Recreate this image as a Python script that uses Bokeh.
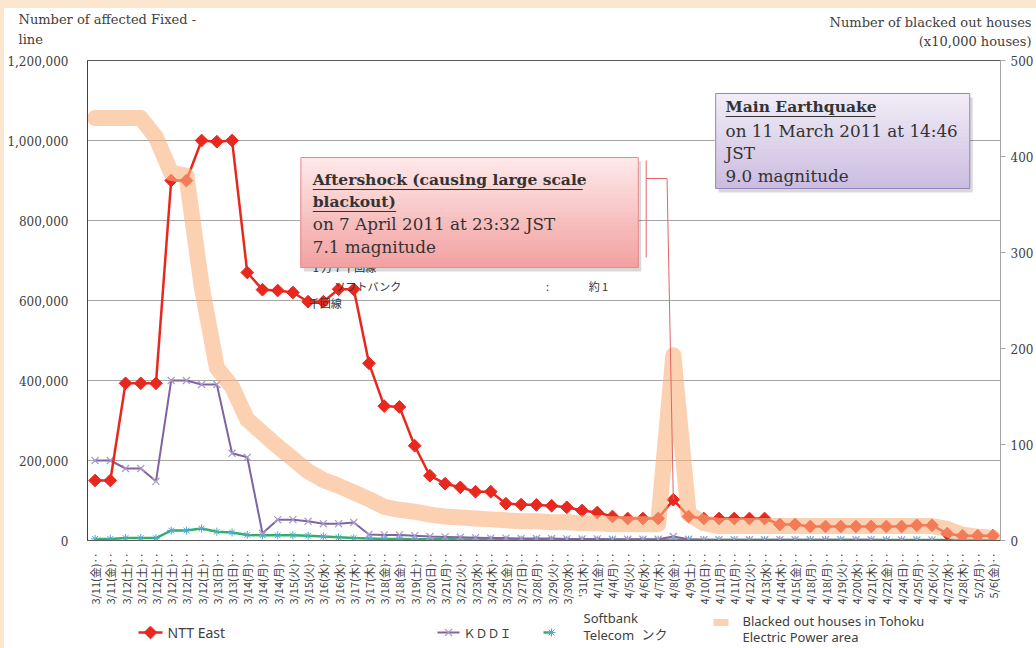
import numpy as np
from bokeh.plotting import figure
from bokeh.models import (Range1d, LinearAxis, FixedTicker, NumeralTickFormatter,
                          Label, BoxAnnotation, ColumnDataSource, Spacer)
from bokeh.layouts import column, row
from bokeh.embed import file_html
from bokeh.resources import INLINE

# ---------------- data ----------------
dates = ["3/11(金)‥", "3/11(金)‥", "3/12(土)‥", "3/12(土)‥", "3/12(土)‥", "3/12(土)‥",
         "3/12(土)‥", "3/12(土)‥", "3/13(日)‥", "3/13(日)‥", "3/14(月)‥", "3/14(月)‥",
         "3/14(月)‥", "3/15(火)‥", "3/15(火)‥", "3/16(水)‥", "3/16(水)‥", "3/17(木)‥",
         "3/17(木)‥", "3/18(金)‥", "3/18(金)‥", "3/19(土)‥", "3/20(日)‥", "3/21(月)‥",
         "3/22(火)‥", "3/23(水)‥", "3/24(木)‥", "3/25(金)‥", "3/27(日)‥", "3/28(月)‥",
         "3/29(火)‥", "3/30(水)‥", "'31(木)‥", "4/1(金)‥", "4/4(月)‥", "4/5(火)‥",
         "4/6(水)‥", "4/7(木)‥", "4/8(金)‥", "4/9(土)‥", "4/10(日)‥", "4/11(月)‥",
         "4/11(月)‥", "4/12(火)‥", "4/13(水)‥", "4/14(木)‥", "4/15(金)‥", "4/18(月)‥",
         "4/18(月)‥", "4/19(火)‥", "4/20(水)‥", "4/21(木)‥", "4/22(金)‥", "4/24(日)‥",
         "4/25(月)‥", "4/26(火)‥", "4/27(水)‥", "4/28(木)‥", "5/2(月)‥", "5/6(金)‥"]

ntt_east = [150000, 150000, 393000, 393000, 393000, 900000, 900000, 1000000, 997000, 1000000,
            670000, 627000, 625000, 620000, 597000, 597000, 628000, 628000, 443000, 336000,
            334000, 237000, 162000, 142000, 133000, 122000, 122000, 92000, 90000, 89000,
            87000, 83000, 75000, 70000, 60000, 55000, 55000, 55000, 102000, 60000,
            55000, 55000, 55000, 55000, 55000, 40000, 40000, 35000, 35000, 35000,
            35000, 35000, 35000, 35000, 38000, 38000, 17000, 12000, 12000, 12000]

kddi = [200000, 200000, 180000, 180000, 148000, 400000, 400000, 390000, 390000, 218000,
        208000, 18000, 52000, 52000, 48000, 42000, 42000, 45000, 15000, 14000,
        14000, 12000, 10000, 9000, 8000, 7000, 6000, 6000, 5000, 5000,
        5000, 4000, 4000, 4000, 3000, 3000, 3000, 3000, 10000, 3000,
        2000, 2000, 2000, 2000, 2000, 2000, 2000, 2000, 2000, 2000,
        2000, 2000, 1500, 1500, 1500, 1500, 1500, 1000, 1000, 1000]

softbank = [4000, 4000, 6000, 6000, 6000, 25000, 25000, 30000, 22000, 20000,
            14000, 13000, 13000, 13000, 12000, 10000, 8000, 6000, 5000, 4000,
            4000, 3000, 3000, 3000, 2500, 2500, 2500, 2000, 2000, 2000,
            2000, 2000, 2000, 2000, 2000, 2000, 2000, 2000, 2000, 2000,
            1500, 1500, 1500, 1500, 1500, 1500, 1500, 1500, 1500, 1500,
            1500, 1500, 1000, 1000, 1000, 1000, 1000, 1000, 1000, 1000]

blackout = [440, 440, 440, 440, 420, 383, 380, 265, 180, 160,
            126, 112, 98, 85, 72, 63, 57, 50, 43, 35,
            32, 30, 27, 25, 24, 23, 22, 21, 20, 20,
            19, 19, 18, 18, 17, 17, 17, 17, 193, 28,
            18, 15, 15, 15, 15, 15, 15, 15, 15, 15,
            15, 15, 15, 15, 15, 15, 12, 6, 4, 3]

left_ticks = [0, 200000, 400000, 600000, 800000, 1000000, 1200000]
right_ticks = [0, 100, 200, 300, 400, 500]

# ---------------- style ----------------
NTT = "#E8281E"
KDDI_LINE = "#8064A2"
KDDI_MARK = "#A99BCB"
SB_LINE = "#2EAF6A"
SB_MARK = "#4BACC6"
BAND = "#F9B37F"
BAND_ALPHA = 0.6
TXT = "#404040"
SERIF = "DejaVu Serif"
SANS = "Noto Sans"
CJK = "Noto Sans CJK JP"
PEACH = "#FCE6CF"
BOLD_SIZE = "15.5px"
REG_SIZE = "16.8px"

N = len(dates)
xs = list(range(N))

# page geometry
OX, OY = 4, 8          # peach strips
TOP_H = 44             # title strip height (page y 8..52)
PTOP = OY + TOP_H      # main plot starts at this page y
W = 1036 - OX
H = 610 - PTOP
FL, FT, FR, FB = 83, 60, 1003, 540

DX = (FR - FL) / N


def px2x(px):
    return (px - FL) / DX - 0.5


def py2y(py):
    return (FB - py) * left_ticks[-1] / (FB - FT)


p = figure(width=W, height=H, output_backend="svg", toolbar_location=None,
           x_range=Range1d(-0.5, N - 0.5), y_range=Range1d(0, left_ticks[-1]),
           min_border_left=FL - OX, min_border_right=(OX + W) - FR,
           min_border_top=FT - PTOP, min_border_bottom=(PTOP + H) - FB)
p.extra_y_ranges = {"right": Range1d(0, right_ticks[-1])}
p.background_fill_color = "white"
p.border_fill_color = "white"
p.outline_line_color = "#595959"
p.outline_line_width = 1

src = ColumnDataSource(dict(x=xs, ntt=ntt_east, kddi=kddi, sb=softbank, bo=blackout))

# series
p.line("x", "sb", source=src, line_color=SB_LINE, line_width=2.5)
p.scatter("x", "sb", source=src, marker="asterisk", size=8, line_color=SB_MARK, line_width=1)
p.line("x", "kddi", source=src, line_color=KDDI_LINE, line_width=2)
p.scatter("x", "kddi", source=src, marker="x", size=10, line_color=KDDI_MARK, line_width=1.2)
p.line("x", "ntt", source=src, line_color=NTT, line_width=2.5)
p.scatter("x", "ntt", source=src, marker="square", angle=np.pi / 4, size=9,
          fill_color=NTT, line_color=NTT)
p.line("x", "bo", source=src, y_range_name="right", line_color=BAND, line_alpha=BAND_ALPHA,
       line_width=16, line_cap="round", line_join="round")

# axes
p.yaxis.ticker = FixedTicker(ticks=left_ticks)
p.yaxis.formatter = NumeralTickFormatter(format="0,0")
p.yaxis.major_tick_line_color = None
p.yaxis.minor_tick_line_color = None
p.yaxis.axis_line_color = "#404040"
p.yaxis.major_label_text_font = SERIF
p.yaxis.major_label_text_font_size = "12px"
p.yaxis.major_label_text_color = TXT
p.yaxis.major_label_standoff = 13

ry = LinearAxis(y_range_name="right", ticker=FixedTicker(ticks=right_ticks))
ry.axis_line_color = "#A6A6A6"
ry.major_tick_line_color = "#A6A6A6"
ry.major_tick_out = 5
ry.major_tick_in = 0
ry.minor_tick_line_color = None
ry.major_label_text_font = SERIF
ry.major_label_text_font_size = "12px"
ry.major_label_text_color = TXT
ry.major_label_standoff = 5
p.add_layout(ry, "right")

p.xaxis.ticker = FixedTicker(ticks=xs)
p.xaxis.major_label_overrides = {i: d for i, d in enumerate(dates)}
p.xaxis.major_label_orientation = np.pi / 2
p.xaxis.major_tick_line_color = None
p.xaxis.minor_tick_line_color = None
p.xaxis.axis_line_color = "#595959"
p.xaxis.major_label_text_font = CJK
p.xaxis.major_label_text_font_size = "11px"
p.xaxis.major_label_text_color = TXT
p.xaxis.major_label_standoff = 6

p.xgrid.visible = False
p.ygrid.ticker = FixedTicker(ticks=left_ticks)
p.ygrid.grid_line_color = "#A6A6A6"
p.ygrid.grid_line_width = 1


def lab(fig, px, py, text, font=SERIF, size="12px", align="left", style="normal",
        color=TXT, conv=True):
    x = px2x(px) if conv else px
    y = py2y(py) if conv else py
    fig.add_layout(Label(x=x, y=y, text=text, text_font=font, text_font_size=size,
                         text_align=align, text_baseline="middle", text_font_style=style,
                         text_color=color))


# stray slide text (partly hidden behind the callout)
lab(p, 310, 266, "1 万 7 千回線", font=CJK, size="11px", color="#333333")
lab(p, 332, 285, "ソフトバンク", font=CJK, size="11px", color="#333333")
lab(p, 545, 285, ":", font=CJK, size="11px", color="#333333")
lab(p, 588, 285, "約 1", font=CJK, size="11px", color="#333333")
lab(p, 306, 302, "千回線", font=CJK, size="11px", color="#333333")


def hexmix(c1, c2, t):
    a = [int(c1[i:i + 2], 16) for i in (1, 3, 5)]
    b = [int(c2[i:i + 2], 16) for i in (1, 3, 5)]
    return "#%02x%02x%02x" % tuple(int(round(a[k] + (b[k] - a[k]) * t)) for k in range(3))


def grad_box(l, t, r, b, ctop, cbot, border, n=24):
    p.add_layout(BoxAnnotation(left=px2x(l + 3), right=px2x(r + 3), top=py2y(t + 4),
                               bottom=py2y(b + 4), fill_color="#000000", fill_alpha=0.15,
                               line_color=None))
    for k in range(n):
        tt = t + (b - t) * k / n
        p.add_layout(BoxAnnotation(left=px2x(l), right=px2x(r), top=py2y(tt), bottom=py2y(b),
                                   fill_color=hexmix(ctop, cbot, k / (n - 1)), fill_alpha=1,
                                   line_color=None))
    p.add_layout(BoxAnnotation(left=px2x(l), right=px2x(r), top=py2y(t), bottom=py2y(b),
                               fill_alpha=0, line_color=border, line_width=1, line_alpha=1))


# aftershock callout
grad_box(298, 157, 638, 267, "#FDE8E8", "#F3A2A2", "#E48A8A")
lab(p, 310, 179, "Aftershock (causing large scale", size=BOLD_SIZE, style="bold", color="#333333")
lab(p, 310, 201, "blackout)", size=BOLD_SIZE, style="bold", color="#333333")
lab(p, 310, 223, "on 7 April 2011 at 23:32 JST", size=REG_SIZE, color="#333333")
lab(p, 310, 246, "7.1 magnitude", size=REG_SIZE, color="#333333")

# main quake callout
grad_box(716, 93, 972, 188, "#F1ECF7", "#CBBDE0", "#9A86BF")
lab(p, 726, 106, "Main Earthquake", size=BOLD_SIZE, style="bold", color="#333333")
lab(p, 726, 130, "on 11 March 2011 at 14:46", size=REG_SIZE, color="#333333")
lab(p, 726, 152, "JST", size=REG_SIZE, color="#333333")
lab(p, 726, 175, "9.0 magnitude", size=REG_SIZE, color="#333333")

# underlines
ul = [(310, 582, 189), (310, 394, 211), (726, 877, 116)]
p.segment(x0=[px2x(a) for a, _, _ in ul], x1=[px2x(b) for _, b, _ in ul],
          y0=[py2y(c) for _, _, c in ul], y1=[py2y(c) for _, _, c in ul],
          line_color="#333333", line_width=1, level="overlay")

# leader line from aftershock box to 4/8 point
i48 = dates.index("4/8(金)‥")
p.segment(x0=[px2x(646), px2x(646), px2x(667)],
          y0=[py2y(160), py2y(178), py2y(178)],
          x1=[px2x(646), px2x(667), i48],
          y1=[py2y(257), py2y(178), ntt_east[i48]],
          line_color="#E06666", line_width=1, level="overlay")


def strip(h, y0, y1):
    f = figure(width=W, height=h, output_backend="svg", toolbar_location=None,
               x_range=Range1d(OX, 1036), y_range=Range1d(y1, y0),
               min_border_left=0, min_border_right=0, min_border_top=0, min_border_bottom=0,
               x_axis_location=None, y_axis_location=None)
    f.outline_line_color = None
    f.grid.visible = False
    f.background_fill_color = "white"
    f.border_fill_color = "white"
    return f


# ---------------- title strip ----------------
top = strip(TOP_H, OY, PTOP)
lab(top, 18, 19, "Number of affected Fixed -", size="13px", conv=False)
lab(top, 18, 39, "line", size="13px", conv=False)
lab(top, 1031, 22, "Number of blacked out houses", size="13px", align="right", conv=False)
lab(top, 1031, 41, "(x10,000 houses)", size="13px", align="right", conv=False)

# ---------------- legend strip ----------------
leg = strip(648 - 610, 610, 648)

leg.line([138, 162], [632, 632], line_color=NTT, line_width=2.5)
leg.scatter([150], [632], marker="square", angle=np.pi / 4, size=9, fill_color=NTT, line_color=NTT)
lab(leg, 167, 632, "NTT East", font=SANS, size="14px", conv=False)

leg.line([437, 459], [632, 632], line_color=KDDI_LINE, line_width=2)
leg.scatter([448], [632], marker="x", size=10, line_color=KDDI_MARK, line_width=1.2)
lab(leg, 463, 632, "ＫＤＤＩ", font=CJK, size="12px", conv=False)

leg.line([543, 552], [632, 632], line_color=SB_LINE, line_width=2.5)
leg.scatter([551], [632], marker="asterisk", size=8, line_color=SB_MARK, line_width=1)
lab(leg, 583, 617, "Softbank", font=SANS, size="13px", conv=False)
lab(leg, 583, 634, "Telecom", font=SANS, size="13px", conv=False)
lab(leg, 641, 633, "ンク", font=CJK, size="13px", conv=False)

leg.line([713, 728], [622, 622], line_color=BAND, line_alpha=BAND_ALPHA, line_width=7)
lab(leg, 742, 620, "Blacked out houses in Tohoku", font=SANS, size="13px", conv=False)
lab(leg, 742, 636, "Electric Power area", font=SANS, size="13px", conv=False)

layout = column(
    Spacer(width=1036, height=OY, styles={"background-color": PEACH}),
    row(Spacer(width=OX, height=648 - OY, styles={"background-color": PEACH}),
        column(row(top), row(p), row(leg))),
)

open("out.html", "w").write(file_html(layout, INLINE))
